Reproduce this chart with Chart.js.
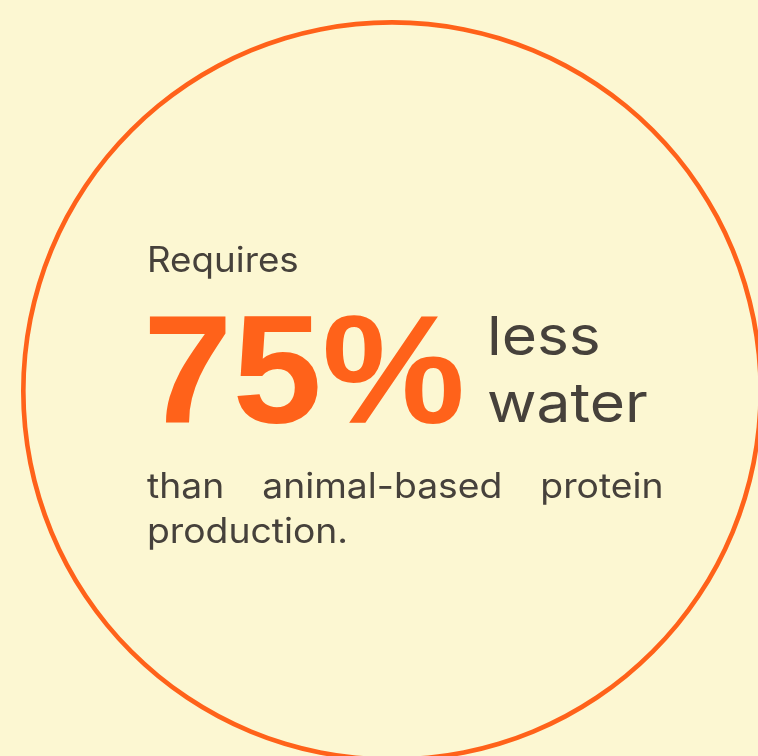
<!DOCTYPE html>
<html>
<head>
<meta charset="utf-8">
<script src="https://cdn.jsdelivr.net/npm/chart.js@4/dist/chart.umd.min.js"></script>
<style>
    html, body {
        margin: 0;
        padding: 0;
        width: 758px;
        height: 756px;
        overflow: hidden;
        background: #FCF7D2;
    }
    #ring {
        position: absolute;
        left: 0;
        top: 0;
    }
    .txt {
        position: absolute;
        color: #46413B;
        font-family: Inter, sans-serif;
        white-space: nowrap;
        transform-origin: left top;
    }
    #requires { left: 147px; top: 242px; font-size: 35px; line-height: 35px; transform: scaleX(1.05); }
    #big {
        left: 143px; top: 293px;
        font-family: "Liberation Sans", Arial, sans-serif;
        font-weight: bold;
        font-size: 154px;
        line-height: 154px;
        color: #FF621A;
        transform: scaleX(1.045);
    }
    #unit { left: 487px; top: 302px; font-size: 54px; line-height: 67px; transform: scaleX(1.12); }
    #tail {
        left: 147px; top: 463px; width: 485px;
        font-size: 35px; line-height: 45px;
        white-space: normal;
        text-align: justify;
        transform: scaleX(1.065);
    }
</style>
</head>
<body>
<canvas id="ring" width="784" height="782"></canvas>
<div class="txt" id="requires">Requires</div>
<div class="txt" id="big"></div>
<div class="txt" id="unit">less<br>water</div>
<div class="txt" id="tail">than animal-based protein production.</div>
<script>
// stat shown inside the circle
const statLabels = ['less water'];
const statValues = [75];
const statUnit = '%';

// the ring is one full slice
const ringLabels = ['water'];
const ringValues = [100];

document.getElementById('big').textContent = statValues[0] + statUnit;

const ctx = document.getElementById('ring').getContext('2d');
const chart = new Chart(ctx, {
    type: 'doughnut',
    data: {
        labels: ringLabels,
        datasets: [{
            data: ringValues,
            backgroundColor: ['#FF621A'],
            borderWidth: 0
        }]
    },
    options: {
        responsive: false,
        animation: false,
        radius: 371,
        cutout: '98.75%',   // inner edge ~4-5px inside the outer one
        layout: { padding: 0 },
        plugins: {
            legend: { display: false },
            tooltip: { enabled: false },
            title: { display: false }
        }
    }
});
</script>
</body>
</html>
